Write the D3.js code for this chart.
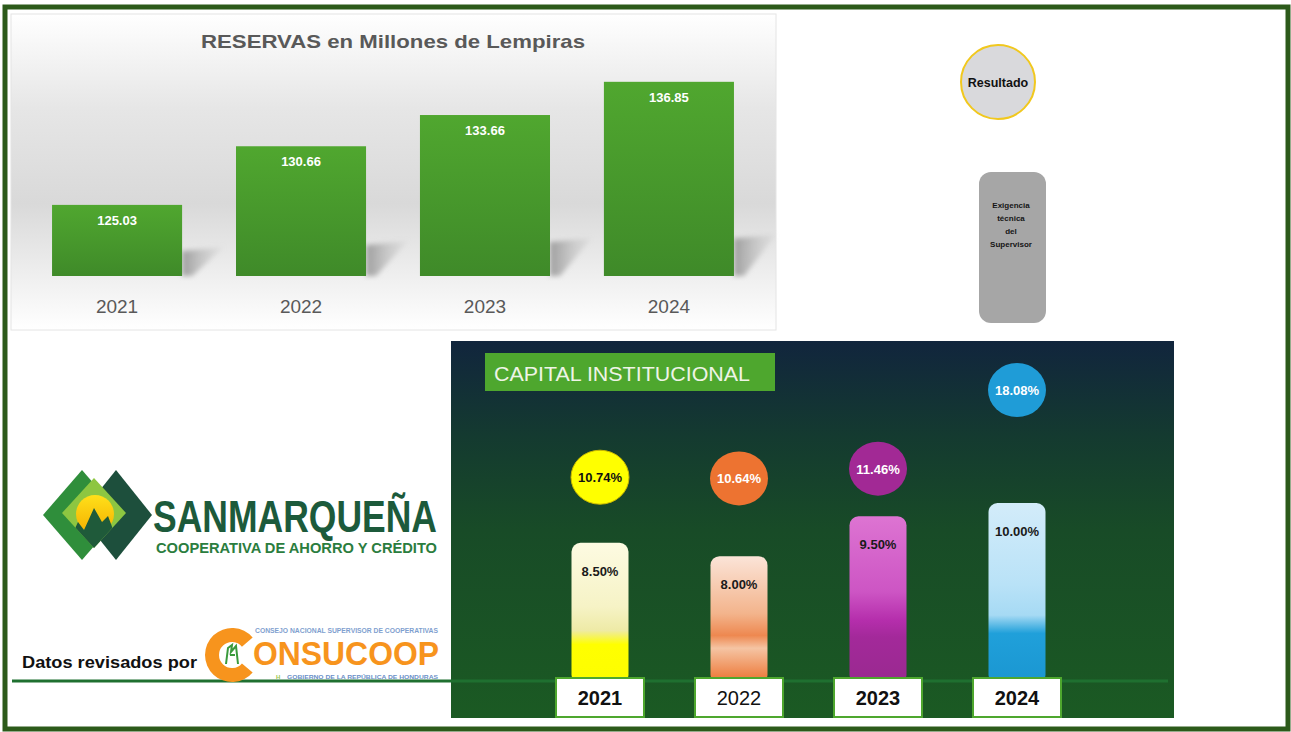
<!DOCTYPE html>
<html>
<head>
<meta charset="utf-8">
<script src="https://cdn.jsdelivr.net/npm/d3@7"></script>
<style>
  body { margin: 0; background: #fff; }
  svg { display: block; font-family: "Liberation Sans", Arial, sans-serif; }
</style>
</head>
<body>
<svg id="chart" width="1291" height="732"></svg>
<script>
// -----------------------
// Data
// -----------------------
const years = ["2021", "2022", "2023", "2024"];
const reservas = [125.03, 130.66, 133.66, 136.85];      // millones de lempiras
const exigencia = [8.50, 8.00, 9.50, 10.00];            // exigencia técnica del supervisor (%)
const resultado = [10.74, 10.64, 11.46, 18.08];         // resultado capital institucional (%)
const yearBold = [true, false, true, true];

const barColors = [
  ["#fdfbe2", "#f6f3c6", "#eeeaa6", "#ffff00", "#fdfd00"],
  ["#fbe4d8", "#f3b48c", "#ee8850", "#f5c4a3", "#ec6f2a"],
  ["#dd74d2", "#cd55c4", "#b52eac", "#a3299a", "#99298f"],
  ["#d3ecfa", "#b9e2f7", "#a6daf4", "#20a0da", "#1a96d1"]
];
const circleColors = ["#ffff00", "#ed7331", "#a22995", "#1f9cd7"];
const circleText = ["#111", "#fff", "#fff", "#fff"];

const svg = d3.select("#chart");
const defs = svg.append("defs");

// outer frame
svg.append("rect")
  .attr("x", 5).attr("y", 7).attr("width", 1283).attr("height", 722)
  .attr("fill", "#fff").attr("stroke", "#2c5a1a").attr("stroke-width", 5);

// -----------------------
// RESERVAS chart
// -----------------------
const bgGrad = defs.append("linearGradient").attr("id", "resBg")
  .attr("x1", 0).attr("y1", 0).attr("x2", 0).attr("y2", 1);
[[0, "#ffffff"], [0.3, "#e6e6e6"], [0.6, "#d9d9d9"], [0.82, "#eeeeee"], [1, "#ffffff"]]
  .forEach(s => bgGrad.append("stop").attr("offset", s[0]).attr("stop-color", s[1]));

const barGrad = defs.append("linearGradient").attr("id", "resBar")
  .attr("x1", 0).attr("y1", 0).attr("x2", 0).attr("y2", 1);
barGrad.append("stop").attr("offset", 0).attr("stop-color", "#50a72f");
barGrad.append("stop").attr("offset", 1).attr("stop-color", "#3f8a29");

const shGrad = defs.append("linearGradient").attr("id", "resShadow")
  .attr("x1", 0).attr("y1", 0).attr("x2", 1).attr("y2", 0);
shGrad.append("stop").attr("offset", 0).attr("stop-color", "#8a8a8a").attr("stop-opacity", 0.8);
shGrad.append("stop").attr("offset", 1).attr("stop-color", "#bdbdbd").attr("stop-opacity", 0.15);

defs.append("filter").attr("id", "blur").append("feGaussianBlur").attr("stdDeviation", 2.5);

svg.append("rect")
  .attr("x", 11).attr("y", 14).attr("width", 765).attr("height", 316)
  .attr("fill", "url(#resBg)").attr("stroke", "#e4e4e4");

svg.append("text")
  .attr("x", 393).attr("y", 48).attr("text-anchor", "middle")
  .attr("font-size", 19).attr("font-weight", "bold").attr("fill", "#595959")
  .attr("textLength", 384).attr("lengthAdjust", "spacingAndGlyphs")
  .text("RESERVAS en Millones de Lempiras");

const xRes = d3.scaleBand().domain(years).range([25, 761])
  .paddingInner(0.293).paddingOuter(0.147);
const yRes = d3.scaleLinear().domain([118.2, 137.6]).range([276, 74]);

const resData = years.map((y, i) => ({ year: y, value: reservas[i] }));

// reflected shadows
svg.append("g").attr("filter", "url(#blur)")
  .selectAll("polygon").data(resData).join("polygon")
  .attr("fill", "url(#resShadow)")
  .attr("points", d => {
    const r = xRes(d.year) + xRes.bandwidth();
    const b = yRes.range()[0];
    const h = 18 + (b - yRes(d.value)) * 0.1;
    return [[r, b], [r, b - h], [r + 42, b - h - 4], [r + 10, b]].join(" ");
  });

svg.selectAll(".resBar").data(resData).join("rect")
  .attr("class", "resBar")
  .attr("x", d => xRes(d.year))
  .attr("y", d => yRes(d.value))
  .attr("width", xRes.bandwidth())
  .attr("height", d => yRes.range()[0] - yRes(d.value))
  .attr("fill", "url(#resBar)");

svg.selectAll(".resVal").data(resData).join("text")
  .attr("class", "resVal")
  .attr("x", d => xRes(d.year) + xRes.bandwidth() / 2)
  .attr("y", d => yRes(d.value) + 20)
  .attr("text-anchor", "middle").attr("font-size", 13).attr("font-weight", "bold")
  .attr("fill", "#fff")
  .text(d => d.value.toFixed(2));

svg.selectAll(".resYear").data(resData).join("text")
  .attr("class", "resYear")
  .attr("x", d => xRes(d.year) + xRes.bandwidth() / 2)
  .attr("y", 313)
  .attr("text-anchor", "middle").attr("font-size", 19).attr("fill", "#595959")
  .text(d => d.year);

// -----------------------
// Legend items
// -----------------------
svg.append("circle").attr("cx", 998).attr("cy", 82).attr("r", 37)
  .attr("fill", "#d9d9dc").attr("stroke", "#f1c81e").attr("stroke-width", 2);
svg.append("text").attr("x", 998).attr("y", 87).attr("text-anchor", "middle")
  .attr("font-size", 12.5).attr("font-weight", "bold").attr("fill", "#111")
  .text("Resultado");

svg.append("rect").attr("x", 979).attr("y", 172).attr("width", 67).attr("height", 151)
  .attr("rx", 12).attr("fill", "#a6a6a6");
["Exigencia", "técnica", "del", "Supervisor"].forEach((t, i) => {
  svg.append("text").attr("x", 1011).attr("y", 208 + i * 13)
    .attr("text-anchor", "middle").attr("font-size", 8).attr("font-weight", "bold")
    .attr("fill", "#151515").text(t);
});

// -----------------------
// CAPITAL INSTITUCIONAL panel
// -----------------------
const capBg = defs.append("linearGradient").attr("id", "capBg")
  .attr("x1", 0).attr("y1", 0).attr("x2", 0).attr("y2", 1);
[[0, "#11253d"], [0.25, "#143a30"], [0.5, "#184b27"], [1, "#1b5a23"]]
  .forEach(s => capBg.append("stop").attr("offset", s[0]).attr("stop-color", s[1]));

svg.append("rect").attr("x", 451).attr("y", 341).attr("width", 723).attr("height", 377)
  .attr("fill", "url(#capBg)");

svg.append("rect").attr("x", 485).attr("y", 353).attr("width", 290).attr("height", 38)
  .attr("fill", "#4ea72e");
svg.append("text").attr("x", 494).attr("y", 381)
  .attr("font-size", 21).attr("fill", "#eef4e6")
  .attr("textLength", 256).attr("lengthAdjust", "spacingAndGlyphs")
  .text("CAPITAL INSTITUCIONAL");

const capData = years.map((y, i) => ({
  year: y, exig: exigencia[i], res: resultado[i], i
}));

const xCap = d3.scalePoint().domain(years).range([600, 1017]);
const yBar = d3.scaleLinear().domain([3.34, 10]).range([680, 503]);
const yCirc = d3.scaleLinear().domain([10, 18]).range([486, 391]);
const barW = 57;

capData.forEach(d => {
  const g = defs.append("linearGradient").attr("id", "cap" + d.i)
    .attr("x1", 0).attr("y1", 0).attr("x2", 0).attr("y2", 1);
  const offs = [0, 0.45, 0.62, 0.72, 1];
  barColors[d.i].forEach((c, k) => g.append("stop").attr("offset", offs[k]).attr("stop-color", c));
});

svg.selectAll(".capBar").data(capData).join("rect")
  .attr("class", "capBar")
  .attr("x", d => xCap(d.year) - barW / 2)
  .attr("y", d => yBar(d.exig))
  .attr("width", barW)
  .attr("height", d => yBar.range()[0] - yBar(d.exig) + 4)
  .attr("rx", 9)
  .attr("fill", d => `url(#cap${d.i})`);

svg.selectAll(".capVal").data(capData).join("text")
  .attr("class", "capVal")
  .attr("x", d => xCap(d.year))
  .attr("y", d => yBar(d.exig) + 33)
  .attr("text-anchor", "middle").attr("font-size", 13).attr("font-weight", "bold")
  .attr("fill", "#1a1a1a")
  .text(d => d.exig.toFixed(2) + "%");

svg.selectAll(".capCirc").data(capData).join("ellipse")
  .attr("class", "capCirc")
  .attr("cx", d => xCap(d.year))
  .attr("cy", d => yCirc(d.res))
  .attr("rx", 29).attr("ry", 27)
  .attr("fill", d => circleColors[d.i])
  .attr("stroke", d => d.i === 0 ? "#cbb800" : "none");

svg.selectAll(".circVal").data(capData).join("text")
  .attr("class", "circVal")
  .attr("x", d => xCap(d.year))
  .attr("y", d => yCirc(d.res) + 5)
  .attr("text-anchor", "middle").attr("font-size", 13).attr("font-weight", "bold")
  .attr("fill", d => circleText[d.i])
  .text(d => d.res.toFixed(2) + "%");

// baseline
svg.append("line").attr("x1", 12).attr("x2", 1168).attr("y1", 681).attr("y2", 681)
  .attr("stroke", "#1f7030").attr("stroke-width", 3);

svg.selectAll(".yearBox").data(capData).join("rect")
  .attr("class", "yearBox")
  .attr("x", d => xCap(d.year) - 44)
  .attr("y", 678).attr("width", 88).attr("height", 39)
  .attr("fill", "#fff").attr("stroke", "#4ea72e").attr("stroke-width", 2);

svg.selectAll(".yearLbl").data(capData).join("text")
  .attr("class", "yearLbl")
  .attr("x", d => xCap(d.year))
  .attr("y", 705)
  .attr("text-anchor", "middle").attr("font-size", 20)
  .attr("font-weight", d => yearBold[d.i] ? "bold" : "normal")
  .attr("fill", "#111")
  .text(d => d.year);

// -----------------------
// Logos
// -----------------------
const logo = svg.append("g");
logo.append("polygon").attr("points", "43,515 82,470 121,515 82,560").attr("fill", "#2f8e3b");
logo.append("polygon").attr("points", "80,515 116,470 152,515 116,560").attr("fill", "#1d4f3c");
logo.append("polygon").attr("points", "62,513 94,478 126,513 94,548").attr("fill", "#8dc641");
defs.append("clipPath").attr("id", "logoClip")
  .append("polygon").attr("points", "62,513 94,478 126,513 94,548");
const sunG = defs.append("linearGradient").attr("id", "sun")
  .attr("x1", 0).attr("y1", 0).attr("x2", 0).attr("y2", 1);
sunG.append("stop").attr("offset", 0).attr("stop-color", "#ffe01a");
sunG.append("stop").attr("offset", 1).attr("stop-color", "#f5b000");
const inner = logo.append("g").attr("clip-path", "url(#logoClip)");
inner.append("circle").attr("cx", 95).attr("cy", 514).attr("r", 19).attr("fill", "url(#sun)");
inner.append("path")
  .attr("d", "M66,548 L78,522 L84,530 L94,508 L102,522 L108,516 L120,548 Z")
  .attr("fill", "#1f5a3a");

svg.append("text").attr("x", 153).attr("y", 532)
  .attr("font-family", "'Liberation Sans Narrow', 'Liberation Sans', Arial, sans-serif")
  .attr("font-size", 44).attr("font-weight", "bold").attr("fill", "#1c5a3b")
  .attr("textLength", 284).attr("lengthAdjust", "spacingAndGlyphs")
  .text("SANMARQUEÑA");
svg.append("text").attr("x", 156).attr("y", 553)
  .attr("font-size", 15).attr("font-weight", "bold").attr("fill", "#2b7d3e")
  .attr("textLength", 281).attr("lengthAdjust", "spacingAndGlyphs")
  .text("COOPERATIVA DE AHORRO Y CRÉDITO");

svg.append("text").attr("x", 22).attr("y", 668)
  .attr("font-size", 17).attr("font-weight", "bold").attr("fill", "#111")
  .attr("textLength", 175).attr("lengthAdjust", "spacingAndGlyphs")
  .text("Datos revisados por");

// CONSUCOOP
const arc = d3.arc().innerRadius(13).outerRadius(27)
  .startAngle(Math.PI / 2 + 0.7).endAngle(Math.PI / 2 + 2 * Math.PI - 0.7);
svg.append("path").attr("transform", "translate(232,655)")
  .attr("d", arc()).attr("fill", "#f7941d");
svg.append("path")
  .attr("d", "M226,664 L228,648 L232,645 L231,652 L236,646 L238,664 M230,655 L235,655")
  .attr("fill", "none").attr("stroke", "#3a9a3c").attr("stroke-width", 2);
svg.append("text").attr("x", 255).attr("y", 633)
  .attr("font-size", 7).attr("font-weight", "bold").attr("fill", "#7f9fcf")
  .attr("textLength", 183).attr("lengthAdjust", "spacingAndGlyphs")
  .text("CONSEJO NACIONAL SUPERVISOR DE COOPERATIVAS");
svg.append("text").attr("x", 253).attr("y", 665)
  .attr("font-size", 33).attr("font-weight", "bold").attr("fill", "#f7941d")
  .attr("textLength", 186).attr("lengthAdjust", "spacingAndGlyphs")
  .text("ONSUCOOP");
svg.append("text").attr("x", 276).attr("y", 679)
  .attr("font-size", 6).attr("font-weight", "bold").attr("fill", "#9bc44c")
  .text("H");
svg.append("text").attr("x", 287).attr("y", 679)
  .attr("font-size", 6).attr("font-weight", "bold").attr("fill", "#6a8fc8")
  .attr("textLength", 151).attr("lengthAdjust", "spacingAndGlyphs")
  .text("GOBIERNO DE LA REPÚBLICA DE HONDURAS");
</script>
</body>
</html>
